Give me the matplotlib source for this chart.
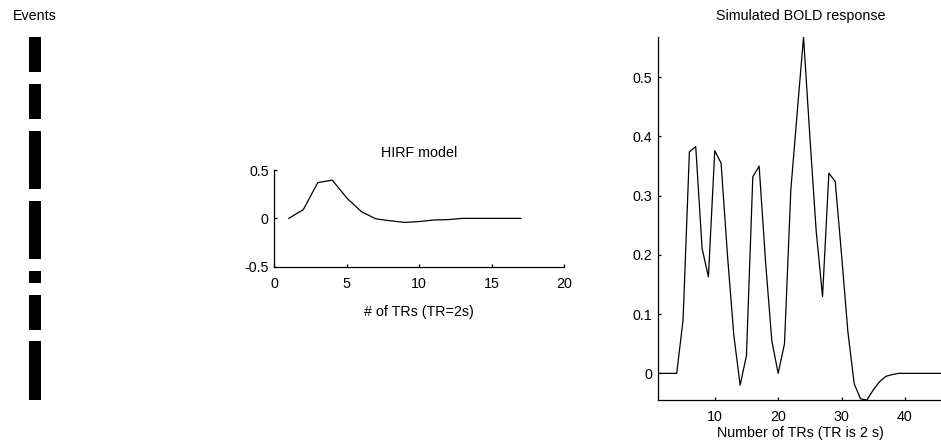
import numpy as np
import matplotlib
matplotlib.use('Agg')
import matplotlib.pyplot as plt
from matplotlib.ticker import FormatStrFormatter

plt.rcParams['font.family'] = ['Liberation Sans', 'DejaVu Sans']
plt.rcParams['font.size'] = 10.3
plt.rcParams['axes.titlesize'] = 10.3

# Event train (1 = event on, one row per TR)
events = [1, 1, 1, 0, 1, 1, 1, 0, 1, 1, 1, 1, 1, 0, 1, 1, 1, 1, 1, 0,
          1, 0, 1, 1, 1, 0, 1, 1, 1, 1, 1]

# HIRF model, one value per TR
hirf_tr = list(range(1, 18))
hirf = [0.0, 0.09, 0.37, 0.395, 0.21, 0.07, -0.005, -0.025, -0.042, -0.033,
        -0.017, -0.013, 0.0, 0.0, 0.0, 0.0, 0.0]

# Simulated BOLD response
bold_tr = list(range(1, 47))
bold = [0.0, 0.0, 0.0, 0.0, 0.09, 0.374, 0.383, 0.211, 0.163, 0.376,
        0.355, 0.2, 0.065, -0.02, 0.03, 0.332, 0.35, 0.19, 0.055, 0.0,
        0.05, 0.31, 0.44, 0.568, 0.4, 0.24, 0.13, 0.338, 0.324, 0.2,
        0.07, -0.018, -0.043, -0.045, -0.028, -0.014, -0.005, -0.002, 0.0, 0.0,
        0.0, 0.0, 0.0, 0.0, 0.0, 0.0]


def matlab_style(ax):
    ax.spines['top'].set_visible(False)
    ax.spines['right'].set_visible(False)
    for s in ('left', 'bottom'):
        ax.spines[s].set_linewidth(0.9)
    ax.tick_params(direction='in', length=2.5, width=0.9, pad=4)
    ax.tick_params(axis='x', pad=7.5)
    ax.yaxis.set_major_formatter(FormatStrFormatter('%g'))


fig = plt.figure(figsize=(9.41, 4.42), dpi=100)

# Events column
ax_ev = fig.add_axes([29 / 941, 42 / 442, 11.3 / 941, 363 / 442])
ax_ev.imshow(np.array(events)[:, None], cmap='gray_r', aspect='auto',
             interpolation='nearest', vmin=0, vmax=1)
ax_ev.axis('off')
ax_ev.set_title('Events', pad=12.5)

# HIRF model
ax_h = fig.add_axes([274.3 / 941, (442 - 266.7) / 442, 290 / 941, 96.7 / 442])
ax_h.plot(hirf_tr, hirf, color='black', lw=0.9)
ax_h.set_xlim(0, 20)
ax_h.set_ylim(-0.5, 0.5)
ax_h.set_xticks([0, 5, 10, 15, 20])
ax_h.set_yticks([-0.5, 0, 0.5])
matlab_style(ax_h)
ax_h.set_title('HIRF model', pad=9.5)
ax_h.set_xlabel('# of TRs (TR=2s)', labelpad=10)

# Simulated BOLD response
ax_b = fig.add_axes([657.7 / 941, 42 / 442, 285.3 / 941, 363 / 442])
ax_b.plot(bold_tr, bold, color='black', lw=0.9)
ax_b.set_xlim(1, 46)
ax_b.set_ylim(min(bold), max(bold))
ax_b.set_xticks([10, 20, 30, 40])
ax_b.set_yticks([0, 0.1, 0.2, 0.3, 0.4, 0.5])
matlab_style(ax_b)
ax_b.set_title('Simulated BOLD response', pad=12.5)
ax_b.set_xlabel('Number of TRs (TR is 2 s)', labelpad=1)

fig.savefig('out.png', dpi=100)
